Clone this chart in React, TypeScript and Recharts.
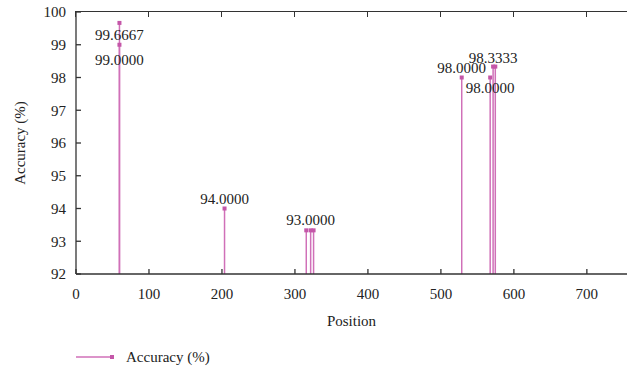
import { ComposedChart, Bar, XAxis, YAxis, Legend, LabelList } from 'recharts';

// impulse positions and accuracy readings
const positions = [60, 60, 204, 316, 322, 326, 529, 568, 572, 575];
const accuracy = [99.6667, 99.0, 94.0, 93.3333, 93.3333, 93.3333, 98.0, 98.0, 98.3333, 98.3333];
const pointLabels = ['99.6667', '99.0000', '94.0000', '', '93.0000', '', '98.0000', '98.0000', '98.3333', ''];

const xTicks = [0, 100, 200, 300, 400, 500, 600, 700];
const yTicks = [92, 93, 94, 95, 96, 97, 98, 99, 100];
const xDomain = [0, 755];
const yDomain = [92, 100];

// layout
const W = 627;
const H = 370;
const MARGIN = { top: 12, right: 0, bottom: 0, left: 0 };
const Y_AXIS_W = 76;

// label offsets (px) relative to the marker
const labelDy = [12, 15, -10, 0, -10, 0, -10, 10, -9, 0];

const FONT = '"Liberation Serif", "DejaVu Serif", serif';
const LINE = '#d070b8';
const MARK = '#c456a8';
const AXIS = '#333';

const data = positions.map((p, i) => ({ pos: p, acc: accuracy[i], label: pointLabels[i] }));

const Impulse = (props: any) => {
  const { x, y, width, height } = props;
  const cx = x + width / 2;
  return (
    <g>
      <line x1={cx} y1={y} x2={cx} y2={y + height} stroke={LINE} strokeWidth={1.5} />
      <rect x={cx - 2} y={y - 2} width={4} height={4} fill={MARK} />
    </g>
  );
};

const PointLabel = (props: any) => {
  const { x, y, width, index, value } = props;
  if (!value) return null;
  return (
    <text
      x={x + width / 2}
      y={y + labelDy[index]}
      textAnchor="middle"
      dominantBaseline="central"
      fontFamily={FONT}
      fontSize={15}
      fill="#222"
    >
      {value}
    </text>
  );
};

const LegendContent = () => (
  <svg width={200} height={30}>
    <line x1={0} y1={17} x2={36} y2={17} stroke={LINE} strokeWidth={1.5} />
    <rect x={34} y={15} width={4} height={4} fill={MARK} />
    <text x={50} y={17} dominantBaseline="central" fontFamily={FONT} fontSize={15} fill="#222">
      Accuracy (%)
    </text>
  </svg>
);

// top border of the plot box with inward ticks, laid over the chart
const TopFrame = () => {
  const left = MARGIN.left + Y_AXIS_W;
  const right = W - MARGIN.right;
  const top = MARGIN.top;
  const toPx = (t: number) => left + ((t - xDomain[0]) / (xDomain[1] - xDomain[0])) * (right - left);
  return (
    <>
      <div
        style={{
          position: 'absolute',
          left,
          top: top - 1,
          width: right - left,
          height: 0,
          borderTop: `1.5px solid ${AXIS}`,
          zIndex: 5,
        }}
      />
      {xTicks.map((t) => (
        <div
          key={t}
          style={{
            position: 'absolute',
            left: toPx(t) - 0.75,
            top: top - 1,
            width: 0,
            height: 6,
            borderLeft: `1.5px solid ${AXIS}`,
            zIndex: 5,
          }}
        />
      ))}
    </>
  );
};

export default function App() {
  return (
    <div style={{ position: 'absolute', left: 0, top: 0, width: W, height: H, background: '#fff' }}>
      <ComposedChart width={W} height={H} data={data} margin={MARGIN}>
        <XAxis
          dataKey="pos"
          type="number"
          domain={xDomain}
          ticks={xTicks}
          height={66}
          tickSize={-5}
          tickMargin={19}
          stroke={AXIS}
          strokeWidth={1.3}
          tick={{ fill: '#222', fontFamily: FONT, fontSize: 15 }}
          label={{ value: 'Position', position: 'insideBottom', offset: 14, fill: '#222', fontFamily: FONT, fontSize: 15 }}
        />
        <YAxis
          type="number"
          domain={yDomain}
          ticks={yTicks}
          width={Y_AXIS_W}
          tickSize={-5}
          tickMargin={15}
          stroke={AXIS}
          strokeWidth={1.3}
          tick={{ fill: '#222', fontFamily: FONT, fontSize: 15 }}
          label={{ value: 'Accuracy (%)', angle: -90, position: 'insideLeft', offset: 20, fill: '#222', fontFamily: FONT, fontSize: 15, style: { textAnchor: 'middle' } }}
        />
        <Legend verticalAlign="bottom" align="left" height={30} content={<LegendContent />} wrapperStyle={{ left: 76 }} />
        <Bar dataKey="acc" name="Accuracy (%)" barSize={1.5} shape={<Impulse />} isAnimationActive={false}>
          <LabelList dataKey="label" content={<PointLabel />} />
        </Bar>
      </ComposedChart>
      <TopFrame />
    </div>
  );
}
